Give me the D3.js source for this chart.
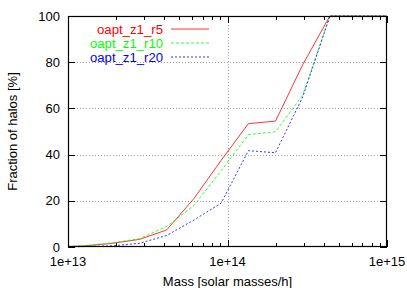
<!DOCTYPE html>
<html><head><meta charset="utf-8">
<script src="https://cdn.jsdelivr.net/npm/d3@7"></script>
<style>body{margin:0;background:#fff}svg{display:block}text{font-family:"Liberation Sans",Arial,sans-serif;font-size:13px}</style>
</head><body><svg id="c" width="407" height="288"></svg>
<script>
const logMass = [12.937, 13.108, 13.278, 13.449, 13.619, 13.790, 13.960, 14.131, 14.301, 14.472, 14.642, 14.813, 14.983, 15.154];
const seriesNames = ["oapt_z1_r5", "oapt_z1_r10", "oapt_z1_r20"];
const r5  = [0, 0.5, 1.6, 3.3, 7.4, 21, 37.5, 53.4, 54.5, 79, 100, 100, 100, 100];
const r10 = [0, 0.6, 1.8, 3.6, 8.9, 18, 33, 48.6, 49.9, 65.8, 100, 100, 100, 100];
const r20 = [0, 0.2, 0.5, 1.6, 5, 11.7, 19, 41.7, 40.8, 65, 100, 100, 100, 100];
const yTicks = [0, 20, 40, 60, 80, 100];
const xTicks = [1e13, 1e14, 1e15];
const xTickLabels = ["1e+13", "1e+14", "1e+15"];
const colors = ["#ff0000", "#00ff00", "#0000ff"];
const dashes = [null, "3,2", "2,2"];

const svg = d3.select("#c");
const L = 68, R = 387, T = 16, B = 247;
const x = d3.scaleLog().domain([1e13, 1e15]).range([L, R]);
const y = d3.scaleLinear().domain([0, 100]).range([B, T]);

// grid
const g = svg.append("g").attr("stroke", "#a0a0a0").attr("stroke-width", 1).attr("stroke-dasharray", "1,2");
yTicks.slice(1, -1).forEach(v => g.append("line").attr("x1", L).attr("x2", R).attr("y1", Math.round(y(v)) + 0.5).attr("y2", Math.round(y(v)) + 0.5));
[1e14].forEach(v => g.append("line").attr("x1", Math.round(x(v)) + 0.5).attr("x2", Math.round(x(v)) + 0.5).attr("y1", T).attr("y2", B));

// ticks
const minor = [];
[1e13, 1e14].forEach(d => { for (let k = 2; k <= 9; k++) minor.push(d * k); });
const tk = svg.append("g").attr("stroke", "#000").attr("stroke-width", 1);
xTicks.forEach(v => {
  const px = Math.round(x(v)) + 0.5;
  tk.append("line").attr("x1", px).attr("x2", px).attr("y1", B).attr("y2", B - 7);
  tk.append("line").attr("x1", px).attr("x2", px).attr("y1", T).attr("y2", T + 7);
});
minor.forEach(v => {
  const px = Math.round(x(v)) + 0.5;
  tk.append("line").attr("x1", px).attr("x2", px).attr("y1", B).attr("y2", B - 4);
  tk.append("line").attr("x1", px).attr("x2", px).attr("y1", T).attr("y2", T + 4);
});
yTicks.forEach(v => {
  const py = Math.round(y(v)) + 0.5;
  tk.append("line").attr("x1", L).attr("x2", L + 7).attr("y1", py).attr("y2", py);
  tk.append("line").attr("x1", R).attr("x2", R - 7).attr("y1", py).attr("y2", py);
});

// tick labels
yTicks.forEach(v => svg.append("text").attr("x", 60).attr("y", y(v) + 4.5).attr("text-anchor", "end").text(v));
xTicks.forEach((v, i) => svg.append("text").attr("x", x(v)).attr("y", 266).attr("text-anchor", "middle").text(xTickLabels[i]));

// axis titles
svg.append("text").attr("x", x(1e14)).attr("y", 286).attr("text-anchor", "middle").text("Mass [solar masses/h]");
svg.append("text").attr("transform", "translate(17," + ((T + B) / 2) + ") rotate(-90)").attr("text-anchor", "middle").text("Fraction of halos [%]");

// data lines
svg.append("clipPath").attr("id", "clip").append("rect").attr("x", L).attr("y", T - 1).attr("width", R - L).attr("height", B - T + 2);
const line = d3.line().x((d, i) => x(Math.pow(10, logMass[i]))).y(d => y(d));
[r5, r10, r20].forEach((s, i) => {
  svg.append("path").attr("d", line(s)).attr("clip-path", "url(#clip)").attr("fill", "none")
    .attr("stroke", colors[i]).attr("stroke-width", 1).attr("stroke-opacity", 0.8).attr("stroke-dasharray", dashes[i]);
});

// legend
const legY = [29, 43, 57];
seriesNames.forEach((n, i) => {
  svg.append("text").attr("x", 163).attr("y", legY[i] + 4.5).attr("text-anchor", "end").attr("fill", colors[i])
    .style("font-size", "12px").attr("textLength", n.length === 10 ? 66 : 73).attr("lengthAdjust", "spacingAndGlyphs").text(n);
  svg.append("line").attr("x1", 171).attr("x2", 209).attr("y1", legY[i]).attr("y2", legY[i])
    .attr("stroke", colors[i]).attr("stroke-width", 1).attr("stroke-opacity", 0.8).attr("stroke-dasharray", dashes[i]);
});

// border
svg.append("rect").attr("x", L + 0.5).attr("y", T + 0.5).attr("width", R - L - 1).attr("height", B - T - 1)
  .attr("fill", "none").attr("stroke", "#000").attr("stroke-width", 1.2);
</script></body></html>
